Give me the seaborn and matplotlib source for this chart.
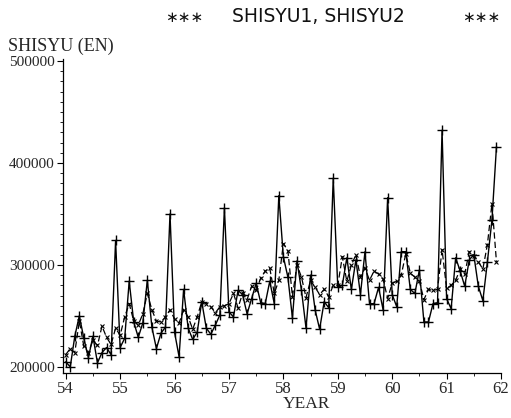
import numpy as np
import pandas as pd
import seaborn as sns
import matplotlib.pyplot as plt
from matplotlib.ticker import MultipleLocator

# monthly values, Jan 54 .. Dec 61
shisyu1 = [205000, 200000, 230000, 250000, 228000, 209000, 230000, 204000, 214000, 219000, 212000, 324000,
           219000, 228000, 284000, 244000, 229000, 243000, 285000, 239000, 218000, 233000, 239000, 350000,
           234000, 210000, 276000, 238000, 227000, 234000, 264000, 238000, 232000, 241000, 251000, 356000,
           254000, 249000, 275000, 271000, 252000, 267000, 282000, 263000, 262000, 284000, 262000, 368000,
           308000, 288000, 248000, 304000, 275000, 238000, 290000, 256000, 237000, 264000, 258000, 385000,
           278000, 280000, 307000, 276000, 305000, 271000, 313000, 262000, 262000, 278000, 256000, 366000,
           271000, 259000, 313000, 313000, 276000, 272000, 295000, 244000, 244000, 262000, 263000, 432000,
           267000, 257000, 307000, 294000, 279000, 305000, 310000, 279000, 265000, 303000, 344000, 416000]
shisyu2 = [212000, 218000, 214000, 245000, 220000, 214000, 226000, 221000, 240000, 229000, 222000, 238000,
           231000, 249000, 262000, 245000, 241000, 252000, 272000, 256000, 245000, 244000, 249000, 256000,
           247000, 243000, 256000, 249000, 237000, 249000, 264000, 262000, 259000, 253000, 259000, 260000,
           262000, 272000, 258000, 272000, 266000, 279000, 275000, 287000, 294000, 297000, 272000, 285000,
           321000, 314000, 269000, 300000, 288000, 268000, 285000, 278000, 271000, 276000, 269000, 280000,
           280000, 308000, 284000, 300000, 310000, 288000, 297000, 285000, 294000, 291000, 286000, 267000,
           282000, 284000, 290000, 311000, 292000, 288000, 284000, 266000, 276000, 275000, 276000, 315000,
           277000, 280000, 285000, 296000, 291000, 313000, 309000, 303000, 296000, 320000, 360000, 303000]
years = [54, 55, 56, 57, 58, 59, 60, 61, 62]
yticks = [200000, 300000, 400000, 500000]

t = 54 + np.arange(len(shisyu1)) / 12
df = pd.DataFrame({'t': t, 's1': shisyu1, 's2': shisyu2})

sns.set_style('ticks')
plt.rcParams['font.family'] = ['Liberation Serif', 'DejaVu Serif']

fig = plt.figure(figsize=(5.11, 4.18), dpi=100)
ax = fig.add_axes([63/511, 45/418, 438/511, 314/418])

sns.lineplot(data=df, x='t', y='s2', ax=ax, color='black', linewidth=0.9,
             linestyle=(0, (5, 2.5)), marker='x', markersize=3.5,
             markeredgewidth=0.8, markeredgecolor='black')
sns.lineplot(data=df, x='t', y='s1', ax=ax, color='black', linewidth=1.0,
             marker='+', markersize=6.5, markeredgewidth=1.0, markeredgecolor='black')

ax.set_xlim(53.95, 62.0)
ax.set_ylim(194000, 502000)
ax.set_xticks(years)
ax.set_xticklabels([str(y) for y in years], fontsize=12)
ax.set_yticks(yticks)
ax.set_yticklabels([str(v) for v in yticks], fontsize=11)
ax.xaxis.set_minor_locator(MultipleLocator(0.5))
ax.yaxis.set_minor_locator(MultipleLocator(10000))
ax.tick_params(which='major', length=4, width=0.8, color='black', pad=2)
ax.tick_params(which='minor', length=2, width=0.6, color='black')
sns.despine(ax=ax)
for s in ['left', 'bottom']:
    ax.spines[s].set_color('black')
    ax.spines[s].set_linewidth(0.9)

ax.set_xlabel('')
ax.set_ylabel('')
fig.text(306/511, 1 - 404/418, 'YEAR', fontsize=12.5, va='center', ha='center')
fig.text(8/511, 1 - 46/418, 'SHISYU (EN)', fontsize=13, va='center', ha='left')

title_kw = dict(family='DejaVu Sans', va='center', ha='center', color='#111111')
fig.text(184/511, 1 - 18/418, '\u2217\u2217\u2217', fontsize=11, **title_kw)
fig.text(318/511, 1 - 17/418, 'SHISYU1, SHISYU2', fontsize=13.5, **title_kw)
fig.text(481/511, 1 - 18/418, '\u2217\u2217\u2217', fontsize=11, **title_kw)

fig.savefig('out.png', dpi=100)
